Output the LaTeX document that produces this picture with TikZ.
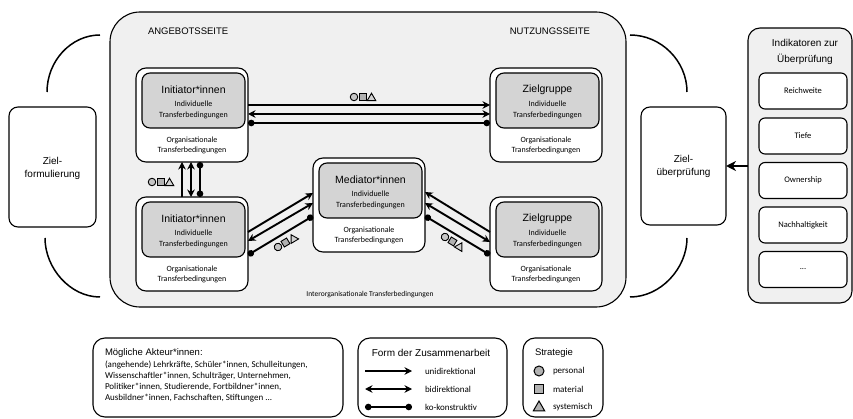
\documentclass[tikz,border=0pt]{standalone}
\usepackage{fontspec}
\setmainfont{Liberation Sans}
\newfontfamily\calfont{Carlito}
\usetikzlibrary{arrows.meta,shapes.geometric}
\tikzset{
  every node/.style={inner sep=0pt, outer sep=0pt},
  bigpanel/.style={draw, line width=1.1pt, rounded corners=30pt, fill=black!6},
  sidepanel/.style={draw, line width=1.1pt, rounded corners=12pt, fill=black!6},
  outerbox/.style={draw, line width=1.1pt, rounded corners=10pt, fill=white, minimum width=112pt, minimum height=94pt},
  innerbox/.style={draw, line width=1.1pt, rounded corners=8pt, fill=black!17, minimum width=103pt, minimum height=55pt},
  zielbox/.style={draw, line width=1.1pt, rounded corners=9pt, fill=white},
  indbox/.style={draw, line width=1.1pt, rounded corners=6pt, fill=white, minimum width=88pt, minimum height=36pt, font=\calfont\fontsize{8.5}{10}\selectfont},
  legbox/.style={draw, line width=1.1pt, rounded corners=12pt, fill=white, minimum height=79pt},
  titlef/.style={font=\fontsize{10.5}{12}\selectfont},
  headf/.style={font=\fontsize{9.5}{11}\selectfont},
  zielf/.style={font=\fontsize{10}{13}\selectfont, align=center},
  smallf/.style={font=\calfont\fontsize{8}{11}\selectfont, align=center},
  smallfo/.style={font=\calfont\fontsize{8}{10}\selectfont, align=center},
  legf/.style={font=\calfont\fontsize{9}{11}\selectfont},
  bracket/.style={line width=1.5pt},
  uni/.style={line width=1.9pt, -{Stealth[length=7.5pt,width=7.5pt]}},
  bi/.style={line width=1.9pt, {Stealth[length=7.5pt,width=7.5pt]}-{Stealth[length=7.5pt,width=7.5pt]}},
  ko/.style={line width=1.9pt, {Circle[length=6.5pt]}-{Circle[length=6.5pt]}},
  bigarrow/.style={line width=2.2pt, -{Stealth[length=10pt,width=10pt]}},
  symc/.style={circle, draw, line width=0.9pt, fill=gray!45, minimum size=7.5pt},
  syms/.style={rectangle, draw, line width=0.9pt, fill=gray!60, minimum size=6.5pt},
  symt/.style={regular polygon, regular polygon sides=3, draw, line width=0.9pt, fill=gray!35, minimum size=10pt},
  lsymc/.style={circle, draw, line width=1pt, fill=gray!60, minimum size=10pt},
  lsyms/.style={rectangle, draw, line width=1pt, fill=gray!60, minimum size=9.5pt},
  lsymt/.style={regular polygon, regular polygon sides=3, draw, line width=1pt, fill=gray!60, minimum size=13pt},
}
\newcommand\actorbox[4]{%
  \node[outerbox] (#1) at ({#2+56},{#3+47}) {};
  \node[innerbox] (#1g) at ({#2+57.5},{#3+32.5}) {};
  \node[titlef] (#1t) at ({#2+57.5},{#3+22}) {#4};
  \node[smallf] (#1i) at ({#2+57.5},{#3+42}) {Individuelle\\Transferbedingungen};
  \node[smallfo] (#1o) at ({#2+56},{#3+77}) {Organisationale\\Transferbedingungen};
}
\newcommand\stratsyms[4]{%
  \begin{scope}[shift={(#2,#3)}, rotate=#4]
    \node[symc, transform shape] (#1c) at (0,0) {};
    \node[syms, transform shape] (#1s) at (8.7,0) {};
    \node[symt, transform shape] (#1t) at (17.5,1.2) {};
  \end{scope}}
\begin{document}
\begin{tikzpicture}[x=1pt,y=-1pt]
\useasboundingbox (0,0) rectangle (853,419);

% brackets
\draw[bracket] (100,35) .. controls (71,35) and (47,61) .. (47,92);
\draw[bracket] (45,238) .. controls (45,268) and (70,297) .. (100,297);
\draw[bracket] (630,35) .. controls (661,35) and (687,61) .. (687,92);
\draw[bracket] (687,238) .. controls (687,268) and (661,297) .. (630,297);

% big panel
\node[bigpanel, minimum width=516pt, minimum height=295pt] (big) at (368,159.5) {};
\node[headf, anchor=west] (angebot) at (148,31) {ANGEBOTSSEITE};
\node[headf, anchor=east] (nutzung) at (590,31) {NUTZUNGSSEITE};
\node[font=\calfont\fontsize{7.5}{9}\selectfont] (interorg) at (370,295) {Interorganisationale Transferbedingungen};

% actors
\actorbox{I1}{136}{68}{Initiator*innen}
\actorbox{Z1}{490}{68}{Zielgruppe}
\actorbox{I2}{136}{197}{Initiator*innen}
\actorbox{M}{313}{158}{Mediator*innen}
\actorbox{Z2}{490}{197}{Zielgruppe}

% horizontal connectors
\draw[uni] (I1.east |- 0,105) -- (Z1.west |- 0,105);
\draw[bi]  (I1.east |- 0,114) -- (Z1.west |- 0,114);
\draw[ko]  (I1.east |- 0,123) -- (Z1.west |- 0,123);
\stratsyms{sh}{354}{97}{0}

% vertical connectors
\draw[uni] (I2.north -| 182,0) -- (I1.south -| 182,0);
\draw[bi]  (I2.north -| 191,0) -- (I1.south -| 191,0);
\draw[ko]  (I2.north -| 200,0) -- (I1.south -| 200,0);
\stratsyms{sv}{152}{182}{0}

% left diagonal
\draw[uni] (I2.east |- 0,232) -- (M.west |- 0,193);
\draw[bi]  (I2.east |- 0,241) -- (M.west |- 0,203);
\draw[ko]  (I2.east |- 0,255) -- (M.west |- 0,216);
\stratsyms{sl}{278}{247}{31}

% right diagonal
\draw[uni] (Z2.west |- 0,232) -- (M.east |- 0,192);
\draw[bi]  (M.east |- 0,203) -- (Z2.west |- 0,242);
\draw[ko]  (M.east |- 0,216) -- (Z2.west |- 0,255);
\stratsyms{sr}{445}{237}{-31}

% Ziel boxes
\node[zielbox, minimum width=87pt, minimum height=120pt] (zf) at (52.5,167) {};
\node[zielf] (zft) at (52.5,168.5) {Ziel-\\formulierung};
\node[zielbox, minimum width=85pt, minimum height=118pt] (zu) at (683.5,166) {};
\node[zielf] (zut) at (683.5,166) {Ziel-\\überprüfung};

% indicators
\node[sidepanel, minimum width=104pt, minimum height=275pt] (ind) at (800,165.5) {};
\node[font=\fontsize{10}{16}\selectfont, align=center] (indt) at (805,51.5) {Indikatoren zur\\Überprüfung};
\node[indbox] (r1) at (803,91) {Reichweite};
\node[indbox] (r2) at (803,136) {Tiefe};
\node[indbox] (r3) at (803,180.5) {Ownership};
\node[indbox] (r4) at (803,225) {Nachhaltigkeit};
\node[indbox] (r5) at (803,269.5) {...};
\draw[bigarrow] (ind.west |- 0,166) -- (zu.east |- 0,166);

% legend 1
\node[legbox, minimum width=250pt] (leg1) at (218,377.5) {};
\node[font=\fontsize{9.5}{11}\selectfont, anchor=west] (akth) at (105,353) {Mögliche Akteur*innen:};
\node[legf, anchor=west, align=left] (aktl) at (105,381.5) {(angehende) Lehrkräfte, Schüler*innen, Schulleitungen,\\Wissenschaftler*innen, Schulträger, Unternehmen,\\Politiker*innen, Studierende, Fortbildner*innen,\\Ausbildner*innen, Fachschaften, Stiftungen ...};

% legend 2
\node[legbox, minimum width=149pt] (leg2) at (432.5,377.5) {};
\node[font=\fontsize{10}{12}\selectfont] (formt) at (431,353) {Form der Zusammenarbeit};
\coordinate (a1s) at (365,371); \coordinate (a1e) at (412,371);
\coordinate (a2s) at (365,389); \coordinate (a2e) at (412,389);
\coordinate (a3s) at (365,407); \coordinate (a3e) at (412,407);
\draw[uni] (a1s) -- (a1e);
\draw[bi] (a2s) -- (a2e);
\draw[ko] (a3s) -- (a3e);
\node[legf, anchor=west] (l1) at (425,371) {unidirektional};
\node[legf, anchor=west] (l2) at (425,389) {bidirektional};
\node[legf, anchor=west] (l3) at (425,407) {ko-konstruktiv};

% legend 3
\node[legbox, minimum width=80pt] (leg3) at (563,377.5) {};
\node[font=\fontsize{9.5}{11}\selectfont, anchor=west] (strt) at (535,353) {Strategie};
\node[lsymc] (lc) at (539,371) {};
\node[lsyms] (ls) at (539,389) {};
\node[lsymt] (lt) at (539,407.5) {};
\node[legf, anchor=west] (sp) at (553,371) {personal};
\node[legf, anchor=west] (sm) at (553,389) {material};
\node[legf, anchor=west] (ss) at (553,407) {systemisch};
\end{tikzpicture}
\end{document}
